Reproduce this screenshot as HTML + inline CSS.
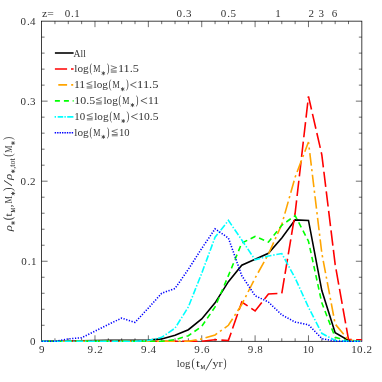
<!DOCTYPE html><html><head><meta charset="utf-8"><style>html,body{margin:0;padding:0;background:#fff}svg{display:block;will-change:transform}</style></head><body><svg width="382" height="382" viewBox="0 0 382 382">
<rect width="382" height="382" fill="#fff"/>
<path d="M54.94 341.30 v-3.0 M54.94 21.15 v3.0 M68.29 341.30 v-3.0 M68.29 21.15 v3.0 M81.63 341.30 v-3.0 M81.63 21.15 v3.0 M94.97 341.30 v-6.0 M94.97 21.15 v6.0 M108.32 341.30 v-3.0 M108.32 21.15 v3.0 M121.66 341.30 v-3.0 M121.66 21.15 v3.0 M135.01 341.30 v-3.0 M135.01 21.15 v3.0 M148.35 341.30 v-6.0 M148.35 21.15 v6.0 M161.69 341.30 v-3.0 M161.69 21.15 v3.0 M175.04 341.30 v-3.0 M175.04 21.15 v3.0 M188.38 341.30 v-3.0 M188.38 21.15 v3.0 M201.72 341.30 v-6.0 M201.72 21.15 v6.0 M215.07 341.30 v-3.0 M215.07 21.15 v3.0 M228.41 341.30 v-3.0 M228.41 21.15 v3.0 M241.76 341.30 v-3.0 M241.76 21.15 v3.0 M255.10 341.30 v-6.0 M255.10 21.15 v6.0 M268.44 341.30 v-3.0 M268.44 21.15 v3.0 M281.79 341.30 v-3.0 M281.79 21.15 v3.0 M295.13 341.30 v-3.0 M295.13 21.15 v3.0 M308.48 341.30 v-6.0 M308.48 21.15 v6.0 M321.82 341.30 v-3.0 M321.82 21.15 v3.0 M335.16 341.30 v-3.0 M335.16 21.15 v3.0 M348.51 341.30 v-3.0 M348.51 21.15 v3.0 M41.60 325.29 h3.0 M361.85 325.29 h-3.0 M41.60 309.28 h3.0 M361.85 309.28 h-3.0 M41.60 293.27 h3.0 M361.85 293.27 h-3.0 M41.60 277.26 h3.0 M361.85 277.26 h-3.0 M41.60 261.25 h6.0 M361.85 261.25 h-6.0 M41.60 245.24 h3.0 M361.85 245.24 h-3.0 M41.60 229.23 h3.0 M361.85 229.23 h-3.0 M41.60 213.22 h3.0 M361.85 213.22 h-3.0 M41.60 197.21 h3.0 M361.85 197.21 h-3.0 M41.60 181.20 h6.0 M361.85 181.20 h-6.0 M41.60 165.19 h3.0 M361.85 165.19 h-3.0 M41.60 149.18 h3.0 M361.85 149.18 h-3.0 M41.60 133.17 h3.0 M361.85 133.17 h-3.0 M41.60 117.16 h3.0 M361.85 117.16 h-3.0 M41.60 101.15 h6.0 M361.85 101.15 h-6.0 M41.60 85.14 h3.0 M361.85 85.14 h-3.0 M41.60 69.13 h3.0 M361.85 69.13 h-3.0 M41.60 53.12 h3.0 M361.85 53.12 h-3.0 M41.60 37.11 h3.0 M361.85 37.11 h-3.0" stroke="#222" stroke-width="0.65" fill="none"/>
<rect x="41.60" y="21.15" width="320.25" height="320.15" fill="none" stroke="#000" stroke-width="0.75"/>
<defs><clipPath id="c"><rect x="40.6" y="20.1" width="322.2" height="322.2"/></clipPath></defs>
<g clip-path="url(#c)">
<path d="M41.60 341.30 L54.94 341.30 L68.29 341.06 L81.63 340.82 L94.97 340.50 L108.32 340.34 L121.66 340.34 L135.01 340.34 L148.35 340.10 L161.69 338.90 L175.04 335.22 L188.38 329.69 L201.72 318.89 L215.07 302.88 L228.41 281.66 L241.76 265.25 L255.10 259.25 L268.44 253.25 L281.79 238.04 L295.13 219.86 L308.48 220.42 L321.82 290.55 L335.16 332.81 L348.51 340.50 L361.85 341.30" fill="none" stroke="#000000" stroke-width="1.60" stroke-linejoin="miter"/>
<path d="M41.60 341.30 L54.94 341.30 L68.29 341.30 L81.63 341.30 L94.97 341.30 L108.32 341.30 L121.66 341.30 L135.01 341.30 L148.35 341.30 L161.69 341.30 L175.04 341.30 L188.38 341.30 L201.72 341.30 L215.07 339.70 L228.41 340.50 L241.76 302.08 L255.10 310.88 L268.44 294.07 L281.79 293.27 L295.13 213.22 L308.48 96.35 L321.82 154.78 L335.16 264.45 L348.51 339.54 L361.85 339.86" fill="none" stroke="#ff0000" stroke-width="1.60" stroke-linejoin="miter" stroke-dasharray="15.3 4.4" stroke-dashoffset="17.08"/>
<path d="M41.60 341.30 L54.94 341.30 L68.29 341.30 L81.63 341.30 L94.97 341.30 L108.32 341.30 L121.66 341.30 L135.01 341.30 L148.35 341.30 L161.69 341.30 L175.04 341.30 L188.38 341.30 L201.72 338.90 L215.07 334.90 L228.41 325.29 L241.76 304.48 L255.10 278.06 L268.44 254.05 L281.79 224.43 L295.13 177.20 L308.48 141.98 L321.82 253.25 L335.16 324.01 L348.51 340.10 L361.85 341.30" fill="none" stroke="#ffa500" stroke-width="1.60" stroke-linejoin="miter" stroke-dasharray="12.5 3.5 2.2 3.5" stroke-dashoffset="9.29"/>
<path d="M41.60 341.30 L54.94 341.30 L68.29 341.30 L81.63 341.30 L94.97 341.30 L108.32 341.30 L121.66 341.30 L135.01 341.30 L148.35 341.30 L161.69 341.30 L175.04 339.70 L188.38 335.70 L201.72 326.41 L215.07 306.88 L228.41 275.66 L241.76 243.08 L255.10 236.43 L268.44 242.04 L281.79 225.23 L295.13 215.62 L308.48 241.24 L321.82 302.88 L335.16 337.30 L348.51 341.30 L361.85 341.30" fill="none" stroke="#00ff00" stroke-width="1.60" stroke-linejoin="miter" stroke-dasharray="5.5 3.8" stroke-dashoffset="3.26"/>
<path d="M41.60 341.30 L54.94 341.30 L68.29 341.30 L81.63 341.30 L94.97 341.30 L108.32 341.30 L121.66 341.30 L135.01 341.30 L148.35 340.50 L161.69 337.30 L175.04 328.17 L188.38 306.88 L201.72 273.26 L215.07 237.24 L228.41 220.42 L241.76 239.96 L255.10 259.81 L268.44 256.05 L281.79 253.57 L295.13 278.06 L308.48 307.28 L321.82 333.30 L335.16 340.50 L348.51 341.30 L361.85 341.30" fill="none" stroke="#00ffff" stroke-width="1.60" stroke-linejoin="miter" stroke-dasharray="6.7 1.8 1.4 1.8" stroke-dashoffset="0.25"/>
<path d="M41.60 341.30 L54.94 341.30 L68.29 338.90 L81.63 337.70 L94.97 331.13 L108.32 324.49 L121.66 318.09 L135.01 322.41 L148.35 308.08 L161.69 293.27 L175.04 288.47 L188.38 269.25 L201.72 248.44 L215.07 228.83 L228.41 238.04 L241.76 275.66 L255.10 295.67 L268.44 302.08 L281.79 314.88 L295.13 322.09 L308.48 324.73 L321.82 338.58 L335.16 341.30 L348.51 341.30 L361.85 341.30" fill="none" stroke="#0000ff" stroke-width="1.60" stroke-linejoin="miter" stroke-dasharray="1.25 1.55" stroke-dashoffset="0.00"/>
</g>
<text x="39.05" y="353.30" font-size="11.00" font-family="Liberation Serif, serif" fill="#333">9</text>
<text x="87.62 94.02 97.22" y="353.30" font-size="11.00" font-family="Liberation Serif, serif" fill="#333">9.2</text>
<text x="141.00 147.40 150.60" y="353.30" font-size="11.00" font-family="Liberation Serif, serif" fill="#333">9.4</text>
<text x="194.37 200.77 203.97" y="353.30" font-size="11.00" font-family="Liberation Serif, serif" fill="#333">9.6</text>
<text x="247.75 254.15 257.35" y="353.30" font-size="11.00" font-family="Liberation Serif, serif" fill="#333">9.8</text>
<text x="302.73 308.33" y="353.30" font-size="11.00" font-family="Liberation Serif, serif" fill="#333">10</text>
<text x="351.30 356.90 363.30 366.50" y="353.30" font-size="11.00" font-family="Liberation Serif, serif" fill="#333">10.2</text>
<text x="30.10" y="344.85" font-size="11.00" font-family="Liberation Serif, serif" fill="#333">0</text>
<text x="21.30 27.70 30.90" y="264.80" font-size="11.00" font-family="Liberation Serif, serif" fill="#333">0.1</text>
<text x="20.50 26.90 30.10" y="184.75" font-size="11.00" font-family="Liberation Serif, serif" fill="#333">0.2</text>
<text x="20.50 26.90 30.10" y="104.70" font-size="11.00" font-family="Liberation Serif, serif" fill="#333">0.3</text>
<text x="20.50 26.90 30.10" y="24.65" font-size="11.00" font-family="Liberation Serif, serif" fill="#333">0.4</text>
<text x="42.00" y="16.50" font-size="11.00" font-family="Liberation Serif, serif" fill="#333" textLength="11.70" lengthAdjust="spacingAndGlyphs" >z=</text>
<text x="64.65 71.05 74.25" y="16.60" font-size="11.00" font-family="Liberation Serif, serif" fill="#333">0.1</text>
<text x="176.45 182.85 186.05" y="16.60" font-size="11.00" font-family="Liberation Serif, serif" fill="#333">0.3</text>
<text x="220.85 227.25 230.45" y="16.60" font-size="11.00" font-family="Liberation Serif, serif" fill="#333">0.5</text>
<text x="275.25" y="16.60" font-size="11.00" font-family="Liberation Serif, serif" fill="#333">1</text>
<text x="308.55" y="16.60" font-size="11.00" font-family="Liberation Serif, serif" fill="#333">2</text>
<text x="318.55" y="16.60" font-size="11.00" font-family="Liberation Serif, serif" fill="#333">3</text>
<text x="331.75" y="16.60" font-size="11.00" font-family="Liberation Serif, serif" fill="#333">6</text>
<text x="176.80" y="367.20" font-size="11.00" font-family="Liberation Serif, serif" fill="#333" textLength="13.60" lengthAdjust="spacingAndGlyphs" >log</text>
<text x="191.60" y="367.00" font-size="13.00" font-family="Liberation Serif, serif" fill="#333" textLength="3.30" lengthAdjust="spacingAndGlyphs" >(</text>
<text x="195.90" y="367.20" font-size="11.00" font-family="Liberation Serif, serif" fill="#333" textLength="3.90" lengthAdjust="spacingAndGlyphs" >t</text>
<text x="200.40" y="369.30" font-size="6.50" font-family="Liberation Serif, serif" fill="#333" textLength="4.70" lengthAdjust="spacingAndGlyphs" stroke="#333" stroke-width="0.15">M</text>
<path d="M205.7 370.3 L212.0 358.8" stroke="#333" stroke-width="0.85" fill="none"/>
<text x="212.50" y="367.20" font-size="11.00" font-family="Liberation Serif, serif" fill="#333" textLength="10.20" lengthAdjust="spacingAndGlyphs" >yr</text>
<text x="223.40" y="367.00" font-size="13.00" font-family="Liberation Serif, serif" fill="#333" textLength="3.00" lengthAdjust="spacingAndGlyphs" >)</text>
<g transform="translate(11.5,231.5) rotate(-90)">
<text x="0.20" y="0.00" font-size="11.00" font-family="Liberation Serif, serif" fill="#333" textLength="6.10" lengthAdjust="spacingAndGlyphs" font-style="italic">ρ</text>
<path d="M8.50 -0.40 L8.50 3.60 M6.77 0.60 L10.23 2.60 M10.23 0.60 L6.77 2.60" stroke="#333" stroke-width="0.78" fill="none"/>
<text x="11.20" y="0.00" font-size="12.50" font-family="Liberation Serif, serif" fill="#333" textLength="3.50" lengthAdjust="spacingAndGlyphs" >(</text>
<text x="15.00" y="0.00" font-size="10.50" font-family="Liberation Serif, serif" fill="#333" textLength="3.20" lengthAdjust="spacingAndGlyphs" >t</text>
<text x="19.00" y="3.10" font-size="6.50" font-family="Liberation Serif, serif" fill="#333" textLength="4.60" lengthAdjust="spacingAndGlyphs" stroke="#333" stroke-width="0.15">M</text>
<text x="24.40" y="0.50" font-size="10.50" font-family="Liberation Serif, serif" fill="#333" textLength="2.20" lengthAdjust="spacingAndGlyphs" stroke="#333" stroke-width="0.15">,</text>
<text x="28.10" y="0.00" font-size="10.30" font-family="Liberation Serif, serif" fill="#333" textLength="7.50" lengthAdjust="spacingAndGlyphs" >M</text>
<path d="M38.00 -0.40 L38.00 3.60 M36.27 0.60 L39.73 2.60 M39.73 0.60 L36.27 2.60" stroke="#333" stroke-width="0.78" fill="none"/>
<text x="40.60" y="0.00" font-size="12.50" font-family="Liberation Serif, serif" fill="#333" textLength="3.60" lengthAdjust="spacingAndGlyphs" >)</text>
<text x="45.30" y="0.00" font-size="12.50" font-family="Liberation Serif, serif" fill="#333" textLength="6.40" lengthAdjust="spacingAndGlyphs" >/</text>
<text x="51.60" y="0.00" font-size="11.00" font-family="Liberation Serif, serif" fill="#333" textLength="6.20" lengthAdjust="spacingAndGlyphs" font-style="italic">ρ</text>
<path d="M60.20 -0.40 L60.20 3.60 M58.47 0.60 L61.93 2.60 M61.93 0.60 L58.47 2.60" stroke="#333" stroke-width="0.78" fill="none"/>
<text x="62.80" y="3.00" font-size="7.20" font-family="Liberation Serif, serif" fill="#333" textLength="10.40" lengthAdjust="spacingAndGlyphs" >,tot</text>
<text x="74.80" y="0.00" font-size="12.50" font-family="Liberation Serif, serif" fill="#333" textLength="3.20" lengthAdjust="spacingAndGlyphs" >(</text>
<text x="78.70" y="0.00" font-size="10.30" font-family="Liberation Serif, serif" fill="#333" textLength="7.30" lengthAdjust="spacingAndGlyphs" >M</text>
<path d="M88.40 -0.40 L88.40 3.60 M86.67 0.60 L90.13 2.60 M90.13 0.60 L86.67 2.60" stroke="#333" stroke-width="0.78" fill="none"/>
<text x="91.50" y="0.00" font-size="12.50" font-family="Liberation Serif, serif" fill="#333" textLength="3.30" lengthAdjust="spacingAndGlyphs" >)</text>
</g>
<path d="M54.90 53.00 H73.60" stroke="#000000" stroke-width="1.60" fill="none"/>
<path d="M54.90 69.00 H67.10 M71.00 69.00 H73.60" stroke="#ff0000" stroke-width="1.60" fill="none"/>
<path d="M58.30 84.90 H67.10 M71.20 84.90 H73.20" stroke="#ffa500" stroke-width="1.60" fill="none"/>
<path d="M54.90 100.90 H59.90 M63.90 100.90 H68.90 M72.70 100.90 H73.60" stroke="#00ff00" stroke-width="1.60" fill="none"/>
<path d="M54.60 116.90 H56.00 M57.70 116.90 H63.20 M64.40 116.90 H65.80 M67.20 116.90 H73.40" stroke="#00ffff" stroke-width="1.60" fill="none"/>
<path d="M54.70 132.80 H56.10 M57.13 132.80 H58.53 M59.56 132.80 H60.96 M61.99 132.80 H63.39 M64.42 132.80 H65.82 M66.85 132.80 H68.25 M69.28 132.80 H70.68 M71.71 132.80 H73.11" stroke="#0000ff" stroke-width="1.60" fill="none"/>
<text x="73.60" y="56.50" font-size="11.00" font-family="Liberation Serif, serif" fill="#333" textLength="12.20" lengthAdjust="spacingAndGlyphs" >All</text>
<text x="74.30" y="72.40" font-size="11.00" font-family="Liberation Serif, serif" fill="#333" textLength="14.40" lengthAdjust="spacingAndGlyphs" >log</text>
<text x="89.50" y="72.40" font-size="12.25" font-family="Liberation Serif, serif" fill="#333" textLength="2.70" lengthAdjust="spacingAndGlyphs" >(</text>
<text x="93.20" y="72.40" font-size="10.60" font-family="Liberation Serif, serif" fill="#333" textLength="7.20" lengthAdjust="spacingAndGlyphs" >M</text>
<path d="M103.35 71.30 L103.35 75.30 M101.62 72.30 L105.08 74.30 M105.08 72.30 L101.62 74.30" stroke="#333" stroke-width="0.78" fill="none"/>
<text x="106.70" y="72.40" font-size="12.25" font-family="Liberation Serif, serif" fill="#333" textLength="2.70" lengthAdjust="spacingAndGlyphs" >)</text>
<path d="M110.80 65.70 L116.70 67.65 L110.80 69.60 M110.80 70.90 H116.70 M110.80 72.20 H116.70" stroke="#333" stroke-width="0.65" fill="none"/>
<text x="117.90" y="72.40" font-size="11.00" font-family="Liberation Serif, serif" fill="#333" textLength="21.00" lengthAdjust="spacingAndGlyphs" >11.5</text>
<text x="73.90" y="88.30" font-size="11.00" font-family="Liberation Serif, serif" fill="#333" textLength="11.40" lengthAdjust="spacingAndGlyphs" >11</text>
<path d="M92.30 81.60 L86.70 83.55 L92.30 85.50 M86.70 86.80 H92.30 M86.70 88.10 H92.30" stroke="#333" stroke-width="0.65" fill="none"/>
<text x="93.60" y="88.30" font-size="11.00" font-family="Liberation Serif, serif" fill="#333" textLength="14.40" lengthAdjust="spacingAndGlyphs" >log</text>
<text x="108.80" y="88.30" font-size="12.25" font-family="Liberation Serif, serif" fill="#333" textLength="2.70" lengthAdjust="spacingAndGlyphs" >(</text>
<text x="112.50" y="88.30" font-size="10.60" font-family="Liberation Serif, serif" fill="#333" textLength="7.20" lengthAdjust="spacingAndGlyphs" >M</text>
<path d="M122.65 87.20 L122.65 91.20 M120.92 88.20 L124.38 90.20 M124.38 88.20 L120.92 90.20" stroke="#333" stroke-width="0.78" fill="none"/>
<text x="126.00" y="88.30" font-size="12.25" font-family="Liberation Serif, serif" fill="#333" textLength="2.70" lengthAdjust="spacingAndGlyphs" >)</text>
<path d="M136.40 81.90 L130.50 84.80 L136.40 87.70" stroke="#333" stroke-width="0.75" fill="none"/>
<text x="137.10" y="88.30" font-size="11.00" font-family="Liberation Serif, serif" fill="#333" textLength="21.40" lengthAdjust="spacingAndGlyphs" >11.5</text>
<text x="74.30" y="104.20" font-size="11.00" font-family="Liberation Serif, serif" fill="#333" textLength="20.80" lengthAdjust="spacingAndGlyphs" >10.5</text>
<path d="M101.80 97.50 L96.10 99.45 L101.80 101.40 M96.10 102.70 H101.80 M96.10 104.00 H101.80" stroke="#333" stroke-width="0.65" fill="none"/>
<text x="103.40" y="104.20" font-size="11.00" font-family="Liberation Serif, serif" fill="#333" textLength="14.40" lengthAdjust="spacingAndGlyphs" >log</text>
<text x="118.60" y="104.20" font-size="12.25" font-family="Liberation Serif, serif" fill="#333" textLength="2.70" lengthAdjust="spacingAndGlyphs" >(</text>
<text x="122.30" y="104.20" font-size="10.60" font-family="Liberation Serif, serif" fill="#333" textLength="7.20" lengthAdjust="spacingAndGlyphs" >M</text>
<path d="M132.45 103.10 L132.45 107.10 M130.72 104.10 L134.18 106.10 M134.18 104.10 L130.72 106.10" stroke="#333" stroke-width="0.78" fill="none"/>
<text x="135.80" y="104.20" font-size="12.25" font-family="Liberation Serif, serif" fill="#333" textLength="2.70" lengthAdjust="spacingAndGlyphs" >)</text>
<path d="M147.10 97.80 L140.90 100.70 L147.10 103.60" stroke="#333" stroke-width="0.75" fill="none"/>
<text x="147.90" y="104.20" font-size="11.00" font-family="Liberation Serif, serif" fill="#333" textLength="11.10" lengthAdjust="spacingAndGlyphs" >11</text>
<text x="74.20" y="120.10" font-size="11.00" font-family="Liberation Serif, serif" fill="#333" textLength="10.90" lengthAdjust="spacingAndGlyphs" >10</text>
<path d="M92.70 113.40 L86.90 115.35 L92.70 117.30 M86.90 118.60 H92.70 M86.90 119.90 H92.70" stroke="#333" stroke-width="0.65" fill="none"/>
<text x="94.20" y="120.10" font-size="11.00" font-family="Liberation Serif, serif" fill="#333" textLength="14.40" lengthAdjust="spacingAndGlyphs" >log</text>
<text x="109.40" y="120.10" font-size="12.25" font-family="Liberation Serif, serif" fill="#333" textLength="2.70" lengthAdjust="spacingAndGlyphs" >(</text>
<text x="113.10" y="120.10" font-size="10.60" font-family="Liberation Serif, serif" fill="#333" textLength="7.20" lengthAdjust="spacingAndGlyphs" >M</text>
<path d="M123.25 119.00 L123.25 123.00 M121.52 120.00 L124.98 122.00 M124.98 120.00 L121.52 122.00" stroke="#333" stroke-width="0.78" fill="none"/>
<text x="126.60" y="120.10" font-size="12.25" font-family="Liberation Serif, serif" fill="#333" textLength="2.70" lengthAdjust="spacingAndGlyphs" >)</text>
<path d="M137.60 113.70 L131.40 116.60 L137.60 119.50" stroke="#333" stroke-width="0.75" fill="none"/>
<text x="138.30" y="120.10" font-size="11.00" font-family="Liberation Serif, serif" fill="#333" textLength="20.20" lengthAdjust="spacingAndGlyphs" >10.5</text>
<text x="74.30" y="136.00" font-size="11.00" font-family="Liberation Serif, serif" fill="#333" textLength="14.40" lengthAdjust="spacingAndGlyphs" >log</text>
<text x="89.50" y="136.00" font-size="12.25" font-family="Liberation Serif, serif" fill="#333" textLength="2.70" lengthAdjust="spacingAndGlyphs" >(</text>
<text x="93.20" y="136.00" font-size="10.60" font-family="Liberation Serif, serif" fill="#333" textLength="7.20" lengthAdjust="spacingAndGlyphs" >M</text>
<path d="M103.35 134.90 L103.35 138.90 M101.62 135.90 L105.08 137.90 M105.08 135.90 L101.62 137.90" stroke="#333" stroke-width="0.78" fill="none"/>
<text x="106.70" y="136.00" font-size="12.25" font-family="Liberation Serif, serif" fill="#333" textLength="2.70" lengthAdjust="spacingAndGlyphs" >)</text>
<path d="M117.70 129.30 L111.80 131.25 L117.70 133.20 M111.80 134.50 H117.70 M111.80 135.80 H117.70" stroke="#333" stroke-width="0.65" fill="none"/>
<text x="118.90" y="136.00" font-size="11.00" font-family="Liberation Serif, serif" fill="#333" textLength="10.60" lengthAdjust="spacingAndGlyphs" >10</text>
</svg></body></html>
